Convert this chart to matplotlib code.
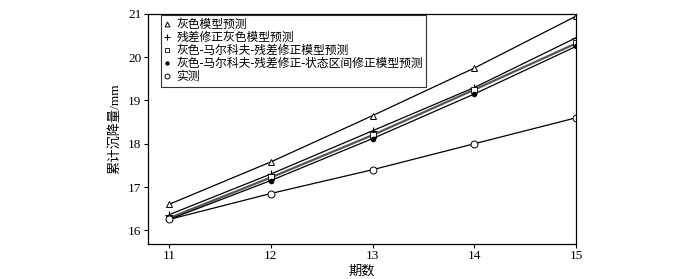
import numpy as np
import matplotlib
matplotlib.use("Agg")
import matplotlib.pyplot as plt

plt.rcParams['font.family'] = ['Liberation Serif', 'Noto Sans CJK SC']
plt.rcParams['font.size'] = 9.5

periods = [11, 12, 13, 14, 15]
grey = [16.60, 17.58, 18.65, 19.75, 20.95]
residual = [16.36, 17.30, 18.30, 19.30, 20.45]
markov = [16.28, 17.22, 18.20, 19.25, 20.32]
interval = [16.25, 17.15, 18.12, 19.15, 20.25]
measured = [16.25, 16.85, 17.40, 18.00, 18.60]

labels = ["灰色模型预测", "残差修正灰色模型预测", "灰色-马尔科夫-残差修正模型预测",
          "灰色-马尔科夫-残差修正-状态区间修正模型预测", "实测"]

fig = plt.figure(figsize=(7, 2.79), dpi=100)
ax = fig.add_axes([0.211, 0.125, 0.612, 0.825])

ax.plot(periods, grey, color="k", lw=0.9, marker="^", ms=5, mfc="white", mew=0.7, label=labels[0])
ax.plot(periods, residual, color="k", lw=0.9, marker="+", ms=6, mew=0.8, label=labels[1])
ax.plot(periods, markov, color="#555555", lw=1.6, marker="s", ms=4, mfc="white", mec="k", mew=0.6, label=labels[2])
ax.plot(periods, interval, color="k", lw=0.9, marker="o", ms=3, mfc="k", label=labels[3])
ax.plot(periods, measured, color="k", lw=0.9, marker="o", ms=5, mfc="white", mew=0.7, label=labels[4])

ax.set_xlim(10.79, 15)
ax.set_ylim(15.68, 21)
ax.set_xticks(periods)
ax.set_yticks([16, 17, 18, 19, 20, 21])
ax.tick_params(direction="out", length=3, width=0.8, pad=1.5)
for s in ax.spines.values():
    s.set_linewidth(0.9)

ax.set_xlabel("期数", labelpad=2)
ax.set_ylabel("累计沉降量/mm", labelpad=5)

leg = ax.legend(loc="upper left", bbox_to_anchor=(0.028, 1.0), borderaxespad=0.1,
                frameon=True, fancybox=False,
                edgecolor="k", handlelength=0.5, handletextpad=0.5, borderpad=0.3,
                labelspacing=0.1, fontsize=8.5, markerscale=0.7)
leg.get_frame().set_linewidth(0.8)
for h in leg.get_lines():
    h.set_linestyle("none")

fig.savefig("out.png", dpi=100)
